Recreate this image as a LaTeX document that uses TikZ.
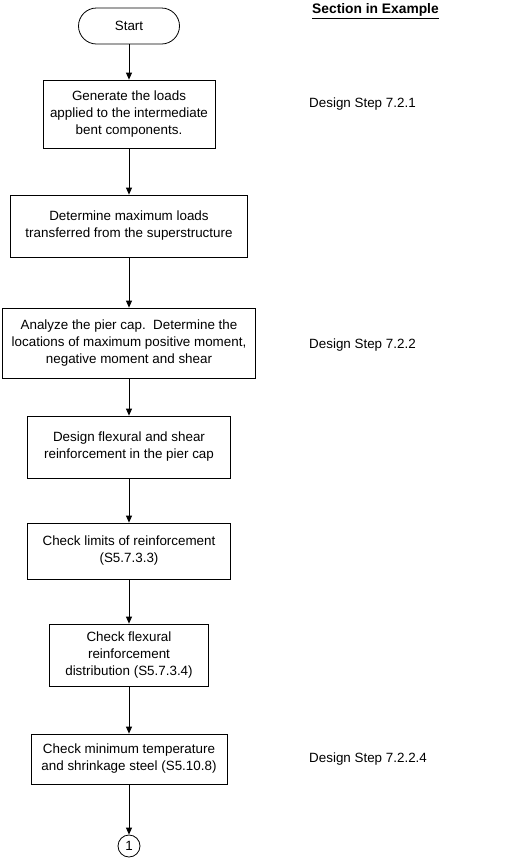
\documentclass[tikz,border=0pt]{standalone}
\usepackage{fontspec}
\setmainfont{Liberation Sans}
\usetikzlibrary{arrows.meta,positioning}
\usetikzlibrary{calc}

\tikzset{
  stepbox/.style={draw, rectangle, align=center, inner sep=0pt, line width=0.8pt,
    font=\fontsize{13.4}{17}\selectfont},
  flow/.style={-{Triangle[length=7pt,width=6pt]}, line width=0.8pt},
  sectext/.style={anchor=west, inner sep=0pt, font=\fontsize{13.4}{15}\selectfont}
}

\begin{document}
\begin{tikzpicture}[x=1pt,y=-1pt]
\useasboundingbox (0,0) rectangle (512,863);
\node[stepbox, rounded corners=18pt, minimum width=101pt, minimum height=36pt] (start) at (129,26) {Start};
\node[stepbox, minimum width=172pt, minimum height=68pt] (gen) at (129,114) {Generate the loads\\applied to the intermediate\\bent components.};
\node[stepbox, minimum width=237pt, minimum height=62pt] (maxld) at (129,226) {Determine maximum loads\\transferred from the superstructure};
\node[stepbox, minimum width=253pt, minimum height=70pt] (anal) at (129,343) {Analyze the pier cap.\ \ Determine the\\locations of maximum positive moment,\\negative moment and shear};
\node[stepbox, minimum width=203pt, minimum height=62pt] (flex) at (129,447) {Design flexural and shear\\reinforcement in the pier cap};
\node[stepbox, minimum width=203pt, minimum height=56pt] (limit) at (129,551) {Check limits of reinforcement\\(S5.7.3.3)};
\node[stepbox, minimum width=159pt, minimum height=62pt] (distr) at (129,655) {Check flexural\\reinforcement\\distribution (S5.7.3.4)};
\node[stepbox, minimum width=196pt, minimum height=50pt] (temp) at (129,759) {Check minimum temperature\\and shrinkage steel (S5.10.8)};
\node[stepbox, circle, minimum size=22pt] (conn) at (129,846) {1};
% arrows down the column
\draw[flow] (start) -- (gen);
\draw[flow] (gen) -- (maxld);
\draw[flow] (maxld) -- (anal);
\draw[flow] (anal) -- (flex);
\draw[flow] (flex) -- (limit);
\draw[flow] (limit) -- (distr);
\draw[flow] (distr) -- (temp);
\draw[flow] (temp) -- (conn);
% section column
\node[sectext, font=\fontsize{13.8}{15}\selectfont\bfseries] (head) at (312,11) {\underline{Section in Example}};
\node[sectext] (ds1) at (309,104) {Design Step 7.2.1};
\node[sectext] (ds2) at (309,345) {Design Step 7.2.2};
\node[sectext] (ds3) at (309,759) {Design Step 7.2.2.4};
\end{tikzpicture}
\end{document}
